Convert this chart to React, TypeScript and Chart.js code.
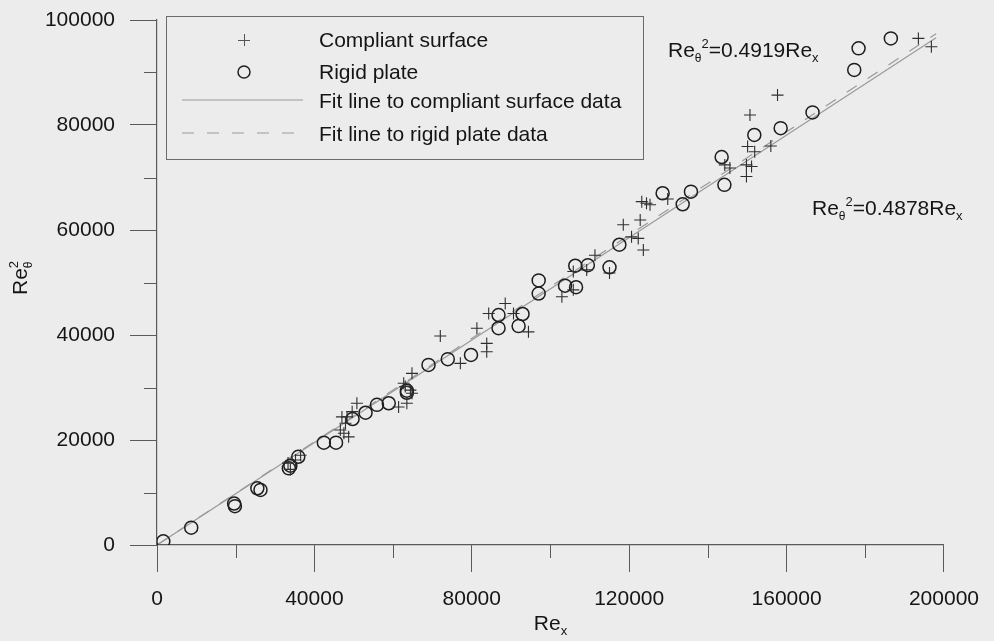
import React, { useEffect, useRef } from 'react';
import { Chart, registerables } from 'chart.js';

Chart.register(...registerables);

const FONT = "'Liberation Sans', Arial, Helvetica, sans-serif";

// Compliant surface (crosses)
const compliantX = [
  33300, 33900, 35200, 36500, 46600, 47900, 48300, 48700, 47500, 49600, 50800, 47000,
  61400, 63100, 63500, 64800, 62700, 64800, 64400, 72000, 77100, 81300, 83800, 83800,
  84300, 88500, 90600, 94400, 102900, 105800, 105800, 109200, 111300, 115000, 118500,
  120600, 122300, 123600, 122800, 123200, 124400, 125300, 129800, 144300, 145600,
  149800, 151100, 149800, 150100, 151900, 156000, 150700, 157700, 193500, 196800,
];
const compliantY = [
  15600, 14400, 16200, 17100, 21900, 23200, 24400, 20600, 21300, 25400, 27000, 24400,
  26300, 30200, 27000, 28900, 30800, 32700, 29500, 39800, 34600, 41300, 38400, 36800,
  44100, 46000, 44100, 40600, 47300, 48600, 52100, 52400, 55200, 51800, 61000,
  58700, 58400, 56200, 61900, 65400, 65100, 64800, 65900, 72400, 71800,
  72400, 72100, 70200, 75900, 74900, 76000, 81900, 85700, 96500, 94900,
];

// Rigid plate (circles)
const rigidX = [
  1600, 8700, 19600, 19800, 25500, 26300, 33500, 33900, 35900, 42400, 45500, 49700,
  53000, 55900, 58900, 63500, 63500, 69000, 73900, 79800, 86800, 86800, 91900, 92900,
  97000, 97000, 103700, 106300, 106500, 109500, 115000, 117500, 128500, 133600, 135700,
  143500, 144200, 151800, 158500, 166600, 177200, 178300, 186500,
];
const rigidY = [
  700, 3300, 7900, 7400, 10800, 10500, 14600, 15100, 16800, 19500, 19500, 24000,
  25200, 26700, 27000, 29000, 29400, 34300, 35400, 36200, 43800, 41300, 41700, 44000,
  50400, 47900, 49400, 53200, 49100, 53300, 52900, 57200, 67000, 64900, 67300,
  73900, 68600, 78100, 79400, 82400, 90500, 94600, 96500,
];

// Fit lines (Re_theta^2 = k Re_x)
const fitX = [0, 198000];
const compliantFitY = [0, 96600]; // 0.4878 Re_x
const rigidFitY = [0, 97400]; // 0.4919 Re_x

const xTicks = [0, 40000, 80000, 120000, 160000, 200000];
const xMinorTicks = [20000, 60000, 100000, 140000, 180000];
const yTicks = [0, 20000, 40000, 60000, 80000, 100000];
const yMinorTicks = [10000, 30000, 50000, 70000, 90000];

const seriesLabels = [
  'Compliant surface',
  'Rigid plate',
  'Fit line to compliant surface data',
  'Fit line to rigid plate data',
];
const equationLabels = ['0.4919', '0.4878'];

type RichItem = { t: string; size: number; dy?: number; advance?: boolean };

function measureRich(ctx: CanvasRenderingContext2D, items: RichItem[]) {
  let w = 0;
  for (const it of items) {
    ctx.font = `${it.size}px ${FONT}`;
    if (it.advance !== false) w += ctx.measureText(it.t).width;
  }
  return w;
}

function drawRich(ctx: CanvasRenderingContext2D, x: number, y: number, items: RichItem[]) {
  let cx = x;
  for (const it of items) {
    ctx.font = `${it.size}px ${FONT}`;
    ctx.fillText(it.t, cx, y + (it.dy || 0));
    if (it.advance !== false) cx += ctx.measureText(it.t).width;
  }
}

const AXIS_COLOR = '#5a5a5a';
const TEXT_COLOR = '#151515';
const BG = '#ececec';

const decorPlugin = {
  id: 'decor',
  beforeDraw(chart: any) {
    const ctx = chart.ctx;
    ctx.save();
    ctx.fillStyle = BG;
    ctx.fillRect(0, 0, chart.width, chart.height);
    ctx.restore();
  },
  afterDraw(chart: any) {
    const ctx: CanvasRenderingContext2D = chart.ctx;
    const xs = chart.scales.x;
    const ys = chart.scales.y;
    const area = chart.chartArea;
    ctx.save();

    // minor ticks
    ctx.strokeStyle = AXIS_COLOR;
    ctx.lineWidth = 1;
    ctx.beginPath();
    for (const v of xMinorTicks) {
      const px = Math.round(xs.getPixelForValue(v)) + 0.5;
      ctx.moveTo(px, area.bottom);
      ctx.lineTo(px, area.bottom + 13);
    }
    for (const v of yMinorTicks) {
      const py = Math.round(ys.getPixelForValue(v)) + 0.5;
      ctx.moveTo(area.left, py);
      ctx.lineTo(area.left - 13, py);
    }
    ctx.stroke();

    // legend box
    const bx = 166, by = 16, bw = 477, bh = 143;
    ctx.strokeStyle = '#6a6a6a';
    ctx.lineWidth = 1;
    ctx.strokeRect(bx + 0.5, by + 0.5, bw, bh);

    const labels = chart.data.datasets.map((d: any) => d.label);
    ctx.textAlign = 'left';
    ctx.textBaseline = 'alphabetic';
    const baselines = [47, 79, 108, 141];
    const centers = [40, 72, 100, 133];
    labels.forEach((lab: string, i: number) => {
      ctx.fillStyle = TEXT_COLOR;
      ctx.font = `21px ${FONT}`;
      ctx.fillText(lab, 319, baselines[i]);
    });
    // legend markers
    ctx.strokeStyle = '#555';
    ctx.lineWidth = 1;
    ctx.beginPath();
    ctx.moveTo(244 - 6, centers[0] + 0.5);
    ctx.lineTo(244 + 6, centers[0] + 0.5);
    ctx.moveTo(244.5, centers[0] - 6);
    ctx.lineTo(244.5, centers[0] + 6);
    ctx.stroke();
    ctx.strokeStyle = '#222';
    ctx.lineWidth = 1.5;
    ctx.beginPath();
    ctx.arc(244, centers[1], 6, 0, Math.PI * 2);
    ctx.stroke();
    ctx.strokeStyle = '#9a9a9a';
    ctx.lineWidth = 1.2;
    ctx.beginPath();
    ctx.moveTo(182, centers[2]);
    ctx.lineTo(303, centers[2]);
    ctx.stroke();
    ctx.setLineDash([12, 13]);
    ctx.beginPath();
    ctx.moveTo(182, centers[3]);
    ctx.lineTo(303, centers[3]);
    ctx.stroke();
    ctx.setLineDash([]);

    // equations
    ctx.fillStyle = TEXT_COLOR;
    const eq = (k: string): RichItem[] => [
      { t: 'Re', size: 21 },
      { t: '\u03B8', size: 12, dy: 5 },
      { t: '2', size: 13, dy: -9 },
      { t: '=' + k + 'Re', size: 21 },
      { t: 'x', size: 13, dy: 5 },
    ];
    drawRich(ctx, 668, 57, eq(equationLabels[0]));
    drawRich(ctx, 812, 215, eq(equationLabels[1]));

    // x axis title
    const xt: RichItem[] = [
      { t: 'Re', size: 21 },
      { t: 'x', size: 13, dy: 5 },
    ];
    const xw = measureRich(ctx, xt);
    drawRich(ctx, (area.left + area.right) / 2 - xw / 2, 630, xt);

    // y axis title (rotated)
    const yt: RichItem[] = [
      { t: 'Re', size: 21 },
      { t: '\u03B8', size: 12, dy: 5, advance: false },
      { t: '2', size: 13, dy: -9 },
    ];
    const yw = measureRich(ctx, yt);
    ctx.save();
    ctx.translate(27, 278);
    ctx.rotate(-Math.PI / 2);
    drawRich(ctx, -yw / 2, 0, yt);
    ctx.restore();

    ctx.restore();
  },
};

export default function App() {
  const canvasRef = useRef<HTMLCanvasElement | null>(null);

  useEffect(() => {
    document.body.style.margin = '0';
    document.body.style.background = BG;
    const canvas = canvasRef.current;
    if (!canvas) return;

    const chart = new Chart(canvas, {
      type: 'scatter',
      data: {
        datasets: [
          {
            label: seriesLabels[0],
            data: compliantX.map((x, i) => ({ x, y: compliantY[i] })),
            pointStyle: 'cross',
            pointRadius: 6,
            borderColor: '#2e2e2e',
            backgroundColor: '#2e2e2e',
            pointBorderWidth: 1.1,
            showLine: false,
            order: 1,
          },
          {
            label: seriesLabels[1],
            data: rigidX.map((x, i) => ({ x, y: rigidY[i] })),
            pointStyle: 'circle',
            pointRadius: 6.5,
            borderColor: '#1e1e1e',
            backgroundColor: 'rgba(0,0,0,0)',
            pointBorderWidth: 1.5,
            showLine: false,
            order: 2,
          },
          {
            label: seriesLabels[2],
            data: fitX.map((x, i) => ({ x, y: compliantFitY[i] })),
            showLine: true,
            pointRadius: 0,
            borderColor: '#9a9a9a',
            borderWidth: 1.2,
            order: 3,
          },
          {
            label: seriesLabels[3],
            data: fitX.map((x, i) => ({ x, y: rigidFitY[i] })),
            showLine: true,
            pointRadius: 0,
            borderColor: '#9a9a9a',
            borderWidth: 1.2,
            borderDash: [12, 13],
            order: 4,
          },
        ],
      },
      options: {
        responsive: false,
        animation: false,
        layout: { padding: { top: 20, right: 48, left: 0, bottom: 0 } },
        plugins: {
          legend: { display: false },
          tooltip: { enabled: false },
        },
        scales: {
          x: {
            type: 'linear',
            min: 0,
            max: 200000,
            afterBuildTicks: (s: any) => {
              s.ticks = xTicks.map((v) => ({ value: v }));
            },
            afterFit: (s: any) => {
              s.height = 96;
            },
            ticks: {
              autoSkip: false,
              maxRotation: 0,
              padding: 15,
              color: TEXT_COLOR,
              font: { family: FONT, size: 21 },
              callback: (v: any) => String(v),
            },
            grid: {
              display: true,
              drawOnChartArea: false,
              drawTicks: true,
              tickLength: 27,
              color: AXIS_COLOR,
              lineWidth: 1,
            },
            border: { display: true, color: AXIS_COLOR, width: 1.2 },
          },
          y: {
            type: 'linear',
            min: 0,
            max: 100000,
            afterBuildTicks: (s: any) => {
              s.ticks = yTicks.map((v) => ({ value: v }));
            },
            afterFit: (s: any) => {
              s.width = 157;
              s.paddingTop = 0;
              s.paddingBottom = 0;
            },
            ticks: {
              autoSkip: false,
              padding: 15,
              color: TEXT_COLOR,
              font: { family: FONT, size: 21 },
              callback: (v: any) => String(v),
            },
            grid: {
              display: true,
              drawOnChartArea: false,
              drawTicks: true,
              tickLength: 27,
              color: AXIS_COLOR,
              lineWidth: 1,
            },
            border: { display: true, color: AXIS_COLOR, width: 1.2 },
          },
        },
      },
      plugins: [decorPlugin],
    } as any);

    return () => {
      chart.destroy();
    };
  }, []);

  return (
    <div style={{ width: 994, height: 641 }}>
      <canvas ref={canvasRef} width={994} height={641} style={{ display: 'block' }} />
    </div>
  );
}
